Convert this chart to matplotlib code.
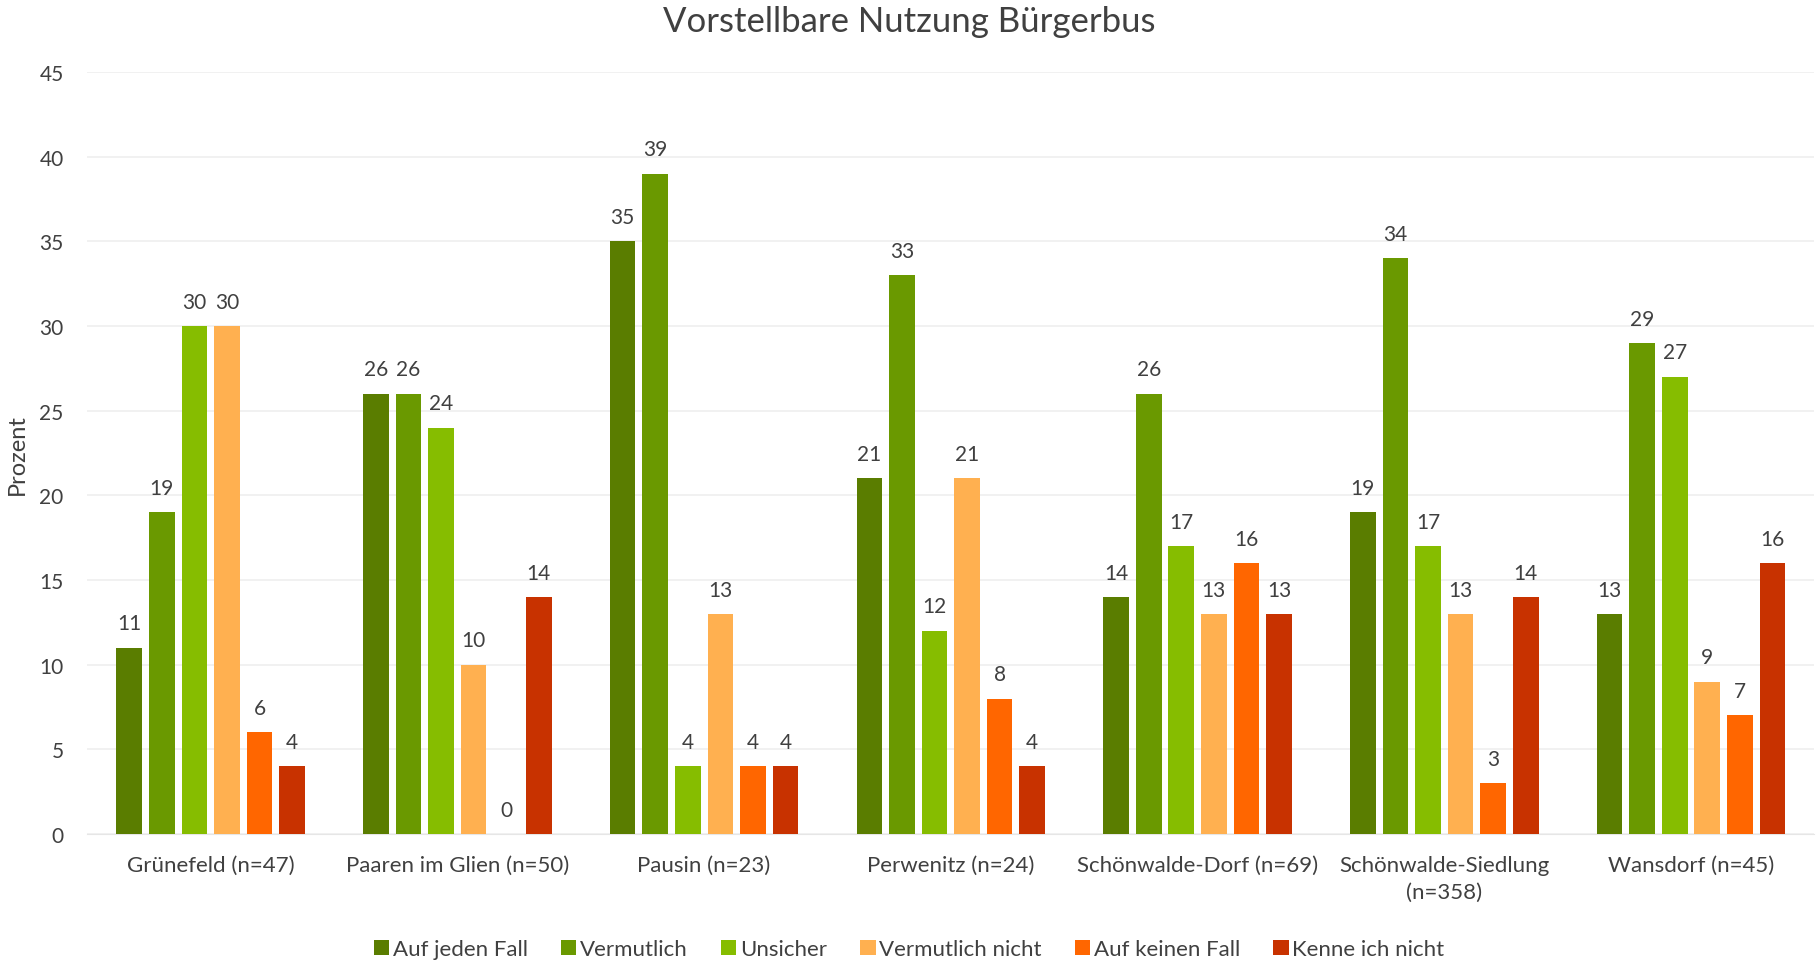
import numpy as np
import matplotlib.pyplot as plt

plt.rcParams['font.family'] = ['Lato', 'DejaVu Sans']

orte = ['Grünefeld (n=47)', 'Paaren im Glien (n=50)', 'Pausin (n=23)', 'Perwenitz (n=24)',
        'Schönwalde-Dorf (n=69)', 'Schönwalde-Siedlung\n(n=358)', 'Wansdorf (n=45)']
antworten = ['Auf jeden Fall', 'Vermutlich', 'Unsicher', 'Vermutlich nicht', 'Auf keinen Fall', 'Kenne ich nicht']

auf_jeden_fall = [11, 26, 35, 21, 14, 19, 13]
vermutlich = [19, 26, 39, 33, 26, 34, 29]
unsicher = [30, 24, 4, 12, 17, 17, 27]
vermutlich_nicht = [30, 10, 13, 21, 13, 13, 9]
auf_keinen_fall = [6, 0, 4, 8, 16, 3, 7]
kenne_ich_nicht = [4, 14, 4, 4, 13, 14, 16]

serien = [auf_jeden_fall, vermutlich, unsicher, vermutlich_nicht, auf_keinen_fall, kenne_ich_nicht]
farben = ['#5a7d00', '#6a9900', '#86bd00', '#ffb050', '#ff6600', '#c83200']

txt = '#404040'

fig = plt.figure(figsize=(18.18, 9.62), dpi=100)
ax = fig.add_axes([0.048, 0.132, 0.95, 0.792])

X = np.arange(len(orte))
width = 0.104
step = 0.132
for i, (werte, farbe, name) in enumerate(zip(serien, farben, antworten)):
    pos = X + (i - 2.5) * step
    ax.bar(pos, werte, width, color=farbe, label=name, zorder=3)
    for x, v in zip(pos, werte):
        ax.text(x, v + 0.85, str(v), ha='center', va='bottom', fontsize=15, color=txt)

ax.set_xlim(-0.5, len(orte) - 0.5)
ax.set_ylim(0, 45)
ax.set_yticks(range(0, 46, 5))
ax.grid(axis='y', color='#efefef', linewidth=1.2, zorder=0)
for s in ['top', 'right', 'left']:
    ax.spines[s].set_visible(False)
ax.spines['bottom'].set_color('#e6e6e6')
ax.tick_params(length=0, labelsize=15, colors=txt)
ax.tick_params(axis='y', pad=17)
ax.tick_params(axis='x', labelsize=16, pad=15)
ax.set_xticks(X)
ax.set_xticklabels(orte, linespacing=1.45)
ax.set_ylabel('Prozent', fontsize=17, color=txt, labelpad=8)

fig.suptitle('Vorstellbare Nutzung Bürgerbus', fontsize=25, color=txt, y=0.994)
handles, labels = ax.get_legend_handles_labels()
fig.legend(handles, labels, loc='center', bbox_to_anchor=(0.5, 0.012), ncol=6, frameon=False,
           fontsize=16, labelcolor=txt, handlelength=0.7, handleheight=0.7,
           handletextpad=0.15, columnspacing=1.5)

plt.savefig('out.png')
